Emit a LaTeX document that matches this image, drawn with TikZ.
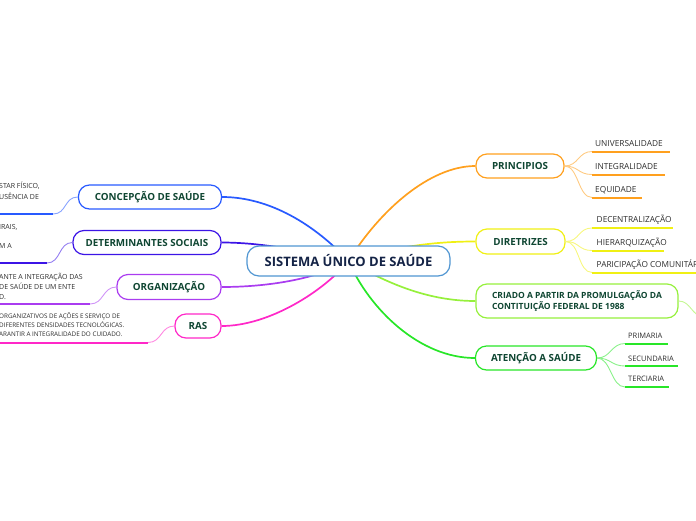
\documentclass[tikz,border=0pt]{standalone}
\usepackage{fontspec}
\setmainfont{Open Sans}
\usetikzlibrary{backgrounds}
\definecolor{rootc}{RGB}{80,150,210}
\definecolor{roottxt}{RGB}{20,35,70}
\definecolor{brtxt}{RGB}{15,70,50}
\definecolor{leaftxt}{RGB}{45,45,45}
\definecolor{cblue}{RGB}{40,90,255}
\definecolor{cindigo}{RGB}{60,20,230}
\definecolor{cpurple}{RGB}{170,60,240}
\definecolor{cmagenta}{RGB}{255,40,200}
\definecolor{corange}{RGB}{255,160,30}
\definecolor{cyellow}{RGB}{240,240,20}
\definecolor{clime}{RGB}{150,240,60}
\definecolor{cgreen}{RGB}{40,230,40}
\tikzset{
  rootbox/.style={draw=rootc, line width=1.2pt, rounded corners=12pt, fill=white,
    minimum width=203pt, minimum height=30pt, inner sep=0pt, text=roottxt,
    font=\bfseries\fontsize{13}{15}\selectfont},
  branchbox/.style={draw=#1, line width=1.2pt, rounded corners=11pt, fill=white,
    minimum height=24pt, inner sep=0pt, text=brtxt,
    font=\bfseries\fontsize{9.8}{12}\selectfont},
  leaftext/.style={anchor=base west, inner sep=0pt, text=leaftxt,
    font=\fontsize{8.3}{10}\selectfont},
  smalltext/.style={anchor=base west, inner sep=0pt, text=leaftxt, align=left},
  mainlink/.style={draw=#1, line width=1.7pt},
  sublink/.style={draw=#1!55, line width=0.9pt},
  uline/.style={draw=#1, line width=2pt},
}
\begin{document}
\begin{tikzpicture}[x=1pt,y=-1pt]
\useasboundingbox (0,0) rectangle (696,520);

% central and branch nodes
\node[rootbox] (root) at (348.5,261) {SISTEMA ÚNICO DE SAÚDE};
\node[branchbox=cblue, minimum width=143pt] (concep) at (150,197) {CONCEPÇÃO DE SAÚDE};
\node[branchbox=cindigo, minimum width=148pt] (determ) at (147,242.5) {DETERMINANTES SOCIAIS};
\node[branchbox=cpurple, minimum width=104pt, minimum height=25pt] (organ) at (169,287) {ORGANIZAÇÃO};
\node[branchbox=cmagenta, minimum width=46pt] (ras) at (198,326) {RAS};
\node[branchbox=corange, minimum width=88pt] (princ) at (520,166) {PRINCIPIOS};
\node[branchbox=cyellow, minimum width=89pt, minimum height=25pt] (diret) at (520.5,241.5) {DIRETRIZES};
\node[branchbox=clime, minimum width=202pt, minimum height=34pt, align=left,
  font=\bfseries\fontsize{8.5}{11.3}\selectfont] (criado) at (577,301)
  {CRIADO A PARTIR DA PROMULGAÇÃO DA\\CONTITUIÇÃO FEDERAL DE 1988};
\node[branchbox=cgreen, minimum width=121pt] (atenc) at (536,358) {ATENÇÃO A SAÚDE};

% main links behind the nodes
\begin{pgfonlayer}{background}
\draw[mainlink=cblue] (root.center) .. controls (315,225) and (270,197) .. (concep.east);
\draw[mainlink=cindigo] (root.center) .. controls (300,250) and (260,242.5) .. (determ.east);
\draw[mainlink=cpurple] (root.center) .. controls (315,280) and (265,287) .. (organ.east);
\draw[mainlink=cmagenta] (root.center) .. controls (325,290) and (270,326) .. (ras.east);
\draw[mainlink=corange] (root.center) .. controls (380,210) and (430,166) .. (princ.west);
\draw[mainlink=cyellow] (root.center) .. controls (400,245) and (440,241.5) .. (diret.west);
\draw[mainlink=clime] (root.center) .. controls (390,285) and (430,301) .. (criado.west);
\draw[mainlink=cgreen] (root.center) .. controls (370,310) and (420,358) .. (atenc.west);
\end{pgfonlayer}

% ---------- right leaves: PRINCIPIOS ----------
\coordinate (p1s) at (592,151.5); \coordinate (p1e) at (670,151.5);
\coordinate (p2s) at (592,174.5); \coordinate (p2e) at (665,174.5);
\coordinate (p3s) at (592,197.5); \coordinate (p3e) at (642,197.5);
\node[leaftext] (p1) at (595,146.5) {UNIVERSALIDADE};
\node[leaftext] (p2) at (595,169) {INTEGRALIDADE};
\node[leaftext] (p3) at (595,192.5) {EQUIDADE};
\foreach \s/\e in {p1s/p1e,p2s/p2e,p3s/p3e}{
  \draw[sublink=corange] (princ.east) .. controls +(14,0) and +(-14,0) .. (\s);
  \draw[uline=corange] (\s) -- (\e);
}

% ---------- right leaves: DIRETRIZES ----------
\coordinate (d1s) at (592,228); \coordinate (d1e) at (673,228);
\coordinate (d2s) at (592,250.5); \coordinate (d2e) at (664,250.5);
\coordinate (d3s) at (592,272.5); \coordinate (d3e) at (700,272.5);
\node[leaftext] (d1) at (596.5,222.3) {DECENTRALIZAÇÃO};
\node[leaftext] (d2) at (596.5,245) {HIERARQUIZAÇÃO};
\node[leaftext] (d3) at (596.5,267) {PARICIPAÇÃO COMUNITÁRIA};
\foreach \s/\e in {d1s/d1e,d2s/d2e,d3s/d3e}{
  \draw[sublink=cyellow] (diret.east) .. controls +(14,0) and +(-14,0) .. (\s);
  \draw[uline=cyellow] (\s) -- (\e);
}

% ---------- CRIADO: link leaving the picture ----------
\coordinate (cout) at (702,316);
\draw[sublink=clime] (criado.east) .. controls +(12,0) and +(-10,0) .. (cout);

% ---------- right leaves: ATENÇÃO ----------
\coordinate (a1s) at (625,343.5); \coordinate (a1e) at (668,343.5);
\coordinate (a2s) at (625,366); \coordinate (a2e) at (678,366);
\coordinate (a3s) at (625,387); \coordinate (a3e) at (669,387);
\node[leaftext, font=\fontsize{7.5}{9}\selectfont] (a1) at (628,338.8) {PRIMARIA};
\node[leaftext, font=\fontsize{7.5}{9}\selectfont] (a2) at (628,361) {SECUNDARIA};
\node[leaftext, font=\fontsize{7.5}{9}\selectfont] (a3) at (628,381.8) {TERCIARIA};
\foreach \s/\e in {a1s/a1e,a2s/a2e,a3s/a3e}{
  \draw[sublink=cgreen] (atenc.east) .. controls +(14,0) and +(-14,0) .. (\s);
  \draw[uline=cgreen] (\s) -- (\e);
}

% ---------- left leaves (cut by the left edge) ----------
\coordinate (c1s) at (53,214); \coordinate (c1e) at (-4,214);
\draw[sublink=cblue] (concep.west) .. controls +(-14,0) and +(14,0) .. (c1s);
\draw[uline=cblue] (c1s) -- (c1e);
\node[smalltext, font=\fontsize{7}{10.5}\selectfont] (c1) at (-1,199) {STAR FÍSICO,\\USÊNCIA DE};

\coordinate (t1s) at (47,263); \coordinate (t1e) at (-4,263);
\draw[sublink=cindigo] (determ.west) .. controls +(-14,0) and +(14,0) .. (t1s);
\draw[uline=cindigo] (t1s) -- (t1e);
\node[smalltext, font=\fontsize{7}{10}\selectfont] (t1) at (-1,229.5) {IRAIS,};
\node[smalltext, font=\fontsize{7}{10}\selectfont] (t2) at (-1,248.5) {M A};

\coordinate (o1s) at (90,304); \coordinate (o1e) at (-4,304);
\draw[sublink=cpurple] (organ.west) .. controls +(-14,0) and +(14,0) .. (o1s);
\draw[uline=cpurple] (o1s) -- (o1e);
\node[smalltext, font=\fontsize{7}{9.8}\selectfont] (o1) at (-1,299) {ANTE A INTEGRAÇÃO DAS\\DE SAÚDE DE UM ENTE\\D.};

\coordinate (r1s) at (148,342.5); \coordinate (r1e) at (-4,342.5);
\draw[sublink=cmagenta] (ras.west) .. controls +(-14,0) and +(14,0) .. (r1s);
\draw[uline=cmagenta] (r1s) -- (r1e);
\node[smalltext, font=\fontsize{6.3}{9}\selectfont] (r1) at (-1,336.5) {ORGANIZATIVOS DE AÇÕES E SERVIÇO DE\\DIFERENTES DENSIDADES TECNOLÓGICAS.\\ARANTIR A INTEGRALIDADE DO CUIDADO.};
\end{tikzpicture}
\end{document}
